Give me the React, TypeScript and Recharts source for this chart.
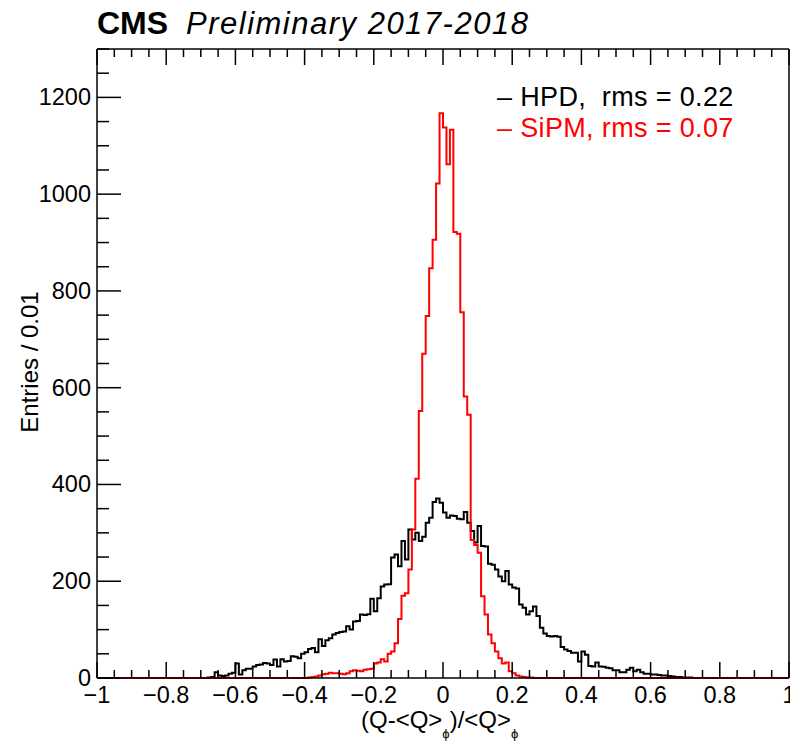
import React from 'react';
import { LineChart, Line, XAxis, YAxis } from 'recharts';

// Histogram: 200 bins of width 0.01 from -1 to 1
const binStart = -1;
const binWidth = 0.01;

const hpdCounts = [
  0, 0, 0, 0, 0, 0, 0, 0, 0, 0,
  0, 0, 0, 0, 0, 0, 0, 0, 0, 0,
  0, 0, 0, 0, 0, 0, 0, 0, 0, 0,
  0, 0, 1, 2, 12, 5, 4, 5, 9, 11,
  30, 7, 16, 19, 19, 24, 27, 28, 31, 30,
  27, 38, 24, 39, 34, 35, 45, 44, 41, 50,
  53, 60, 62, 53, 80, 66, 78, 82, 90, 93,
  95, 96, 107, 100, 117, 118, 131, 130, 132, 164,
  138, 165, 189, 193, 194, 249, 255, 231, 283, 245,
  307, 286, 300, 283, 292, 321, 331, 364, 371, 362,
  342, 331, 336, 335, 329, 328, 343, 321, 304, 280,
  314, 273, 272, 236, 234, 224, 210, 200, 221, 193,
  187, 185, 152, 145, 131, 138, 148, 128, 104, 92,
  87, 86, 87, 85, 64, 59, 56, 52, 52, 34,
  55, 48, 25, 24, 32, 24, 23, 21, 20, 16,
  16, 12, 12, 17, 21, 14, 17, 12, 9, 9,
  7, 7, 6, 5, 5, 4, 3, 2, 2, 1,
  1, 1, 0, 0, 0, 0, 0, 0, 0, 0,
  0, 0, 0, 0, 0, 0, 0, 0, 0, 0,
  0, 0, 0, 0, 0, 0, 0, 0, 0, 0,
];

const sipmCounts = [
  0, 0, 0, 0, 0, 0, 0, 0, 0, 0,
  0, 0, 0, 0, 0, 0, 0, 0, 0, 0,
  0, 0, 0, 0, 0, 0, 0, 0, 0, 0,
  0, 0, 0, 0, 0, 0, 0, 0, 0, 0,
  0, 0, 0, 0, 0, 0, 0, 0, 0, 0,
  0, 0, 0, 0, 0, 0, 0, 0, 0, 0,
  0, 1, 2, 3, 5, 8, 9, 11, 10, 10,
  9, 8, 10, 14, 16, 15, 14, 17, 18, 19,
  30, 32, 39, 34, 50, 55, 72, 122, 170, 175,
  224, 307, 412, 552, 670, 748, 847, 906, 1022, 1167,
  1138, 1062, 1133, 922, 918, 756, 582, 544, 285, 275,
  259, 169, 131, 90, 72, 55, 41, 30, 32, 14,
  10, 5, 3, 2, 1, 1, 0, 0, 0, 0,
  0, 0, 0, 0, 0, 0, 0, 0, 0, 0,
  0, 0, 0, 0, 0, 0, 0, 0, 0, 0,
  0, 0, 0, 0, 0, 0, 0, 0, 0, 0,
  0, 0, 0, 0, 0, 0, 0, 0, 0, 0,
  0, 0, 0, 0, 0, 0, 0, 0, 0, 0,
  0, 0, 0, 0, 0, 0, 0, 0, 0, 0,
  0, 0, 0, 0, 0, 0, 0, 0, 0, 0,
];

const xTicks = [
  -1, -0.95, -0.9, -0.85, -0.8, -0.75, -0.7, -0.65, -0.6, -0.55,
  -0.5, -0.45, -0.4, -0.35, -0.3, -0.25, -0.2, -0.15, -0.1, -0.05,
  0, 0.05, 0.1, 0.15, 0.2, 0.25, 0.3, 0.35, 0.4, 0.45,
  0.5, 0.55, 0.6, 0.65, 0.7, 0.75, 0.8, 0.85, 0.9, 0.95, 1,
];
const xMajorValues = [-1, -0.8, -0.6, -0.4, -0.2, 0, 0.2, 0.4, 0.6, 0.8, 1];
const xMajorLabels = ['\u22121', '\u22120.8', '\u22120.6', '\u22120.4', '\u22120.2', '0', '0.2', '0.4', '0.6', '0.8', '1'];

const yTicks = [
  0, 50, 100, 150, 200, 250, 300, 350, 400, 450, 500, 550, 600, 650,
  700, 750, 800, 850, 900, 950, 1000, 1050, 1100, 1150, 1200, 1250, 1300,
];
const yMajorValues = [0, 200, 400, 600, 800, 1000, 1200];
const yMajorLabels = ['0', '200', '400', '600', '800', '1000', '1200'];

const legendItems = [
  { label: '\u2013 HPD,  rms = 0.22', color: '#000000' },
  { label: '\u2013 SiPM, rms = 0.07', color: '#ff0000' },
];

const rows = hpdCounts.map((h, i) => ({
  x: +(binStart + i * binWidth).toFixed(2),
  hpd: h,
  sipm: sipmCounts[i],
}));
rows.push({ x: 1, hpd: hpdCounts[hpdCounts.length - 1], sipm: sipmCounts[sipmCounts.length - 1] });

const FONT = '"Liberation Sans", Arial, Helvetica, sans-serif';

const findIdx = (vals: number[], v: number) => vals.findIndex((m) => Math.abs(m - v) < 1e-6);

const BottomTick = (props: any) => {
  const { x, y, payload } = props;
  const idx = findIdx(xMajorValues, payload.value);
  const major = idx >= 0;
  return (
    <g>
      <line x1={x} x2={x} y1={y} y2={y - (major ? 16 : 8)} stroke="#000" strokeWidth={1.5} />
      {major && (
        <text x={x} y={y + 25} textAnchor="middle" fontSize={23.5} fontFamily={FONT} fill="#000">
          {xMajorLabels[idx]}
        </text>
      )}
    </g>
  );
};

const TopTick = (props: any) => {
  const { x, y, payload } = props;
  const major = findIdx(xMajorValues, payload.value) >= 0;
  return <line x1={x} x2={x} y1={y} y2={y + (major ? 16 : 8)} stroke="#000" strokeWidth={1.5} />;
};

const LeftTick = (props: any) => {
  const { x, y, payload } = props;
  const idx = findIdx(yMajorValues, payload.value);
  const major = idx >= 0;
  return (
    <g>
      <line x1={x} x2={x + (major ? 24 : 12)} y1={y} y2={y} stroke="#000" strokeWidth={1.5} />
      {major && (
        <text x={x - 6} y={y + 8} textAnchor="end" fontSize={23.5} fontFamily={FONT} fill="#000">
          {yMajorLabels[idx]}
        </text>
      )}
    </g>
  );
};

const RightTick = (props: any) => {
  const { x, y, payload } = props;
  const major = findIdx(yMajorValues, payload.value) >= 0;
  return <line x1={x} x2={x - (major ? 24 : 12)} y1={y} y2={y} stroke="#000" strokeWidth={1.5} />;
};

export default function App() {
  return (
    <div style={{ position: 'absolute', left: 0, top: 0, width: 790, height: 745, background: '#fff' }}>
      <LineChart
        width={790}
        height={745}
        data={rows}
        margin={{ top: 48, right: 0, bottom: 66, left: 96 }}
      >
        <XAxis
          xAxisId="b"
          dataKey="x"
          type="number"
          domain={[-1, 1]}
          ticks={xTicks}
          interval={0}
          height={1}
          tickSize={0}
          tickMargin={0}
          tickLine={false}
          axisLine={{ stroke: '#000', strokeWidth: 1.5 }}
          tick={BottomTick}
        />
        <XAxis
          xAxisId="t"
          orientation="top"
          dataKey="x"
          type="number"
          domain={[-1, 1]}
          ticks={xTicks}
          interval={0}
          height={1}
          tickSize={0}
          tickMargin={0}
          tickLine={false}
          axisLine={{ stroke: '#000', strokeWidth: 1.5 }}
          tick={TopTick}
        />
        <YAxis
          yAxisId="l"
          type="number"
          domain={[0, 1300]}
          ticks={yTicks}
          interval={0}
          width={1}
          tickSize={0}
          tickMargin={0}
          tickLine={false}
          axisLine={{ stroke: '#000', strokeWidth: 1.5 }}
          tick={LeftTick}
        />
        <YAxis
          yAxisId="r"
          orientation="right"
          type="number"
          domain={[0, 1300]}
          ticks={yTicks}
          interval={0}
          width={1}
          tickSize={0}
          tickMargin={0}
          tickLine={false}
          axisLine={{ stroke: '#000', strokeWidth: 1.5 }}
          tick={RightTick}
        />
        <Line
          xAxisId="b"
          yAxisId="l"
          type="stepAfter"
          dataKey="hpd"
          stroke="#000000"
          strokeWidth={2}
          dot={false}
          activeDot={false}
          isAnimationActive={false}
        />
        <Line
          xAxisId="b"
          yAxisId="l"
          type="stepAfter"
          dataKey="sipm"
          stroke="#ff0000"
          strokeWidth={2}
          dot={false}
          activeDot={false}
          isAnimationActive={false}
        />
      </LineChart>
      <svg
        width={790}
        height={745}
        style={{ position: 'absolute', left: 0, top: 0, pointerEvents: 'none' }}
      >
        <text x={97} y={34} fontSize={32} fontWeight="bold" fontFamily={FONT} fill="#000">
          CMS
        </text>
        <text x={186} y={34} fontSize={31} fontStyle="italic" fontFamily={FONT} fill="#000" letterSpacing={1.5}>
          Preliminary 2017-2018
        </text>
        {legendItems.map((it, i) => (
          <text
            key={it.label}
            x={497}
            y={106 + i * 30.5}
            fontSize={27}
            letterSpacing={0.35}
            fontFamily={FONT}
            fill={it.color}
            style={{ whiteSpace: 'pre' }}
          >
            {it.label}
          </text>
        ))}
        <text
          transform="translate(38,362) rotate(-90)"
          textAnchor="middle"
          fontSize={24}
          fontFamily={FONT}
          fill="#000"
        >
          Entries / 0.01
        </text>
        <text x={361} y={728} fontSize={24} fontFamily={FONT} fill="#000">
          (Q-&lt;Q&gt;
          <tspan dy={10} fontSize={13}>{'\u03D5'}</tspan>
          <tspan dy={-10} fontSize={24}>{')/<Q>'}</tspan>
          <tspan dy={10} fontSize={13}>{'\u03D5'}</tspan>
        </text>
      </svg>
    </div>
  );
}
